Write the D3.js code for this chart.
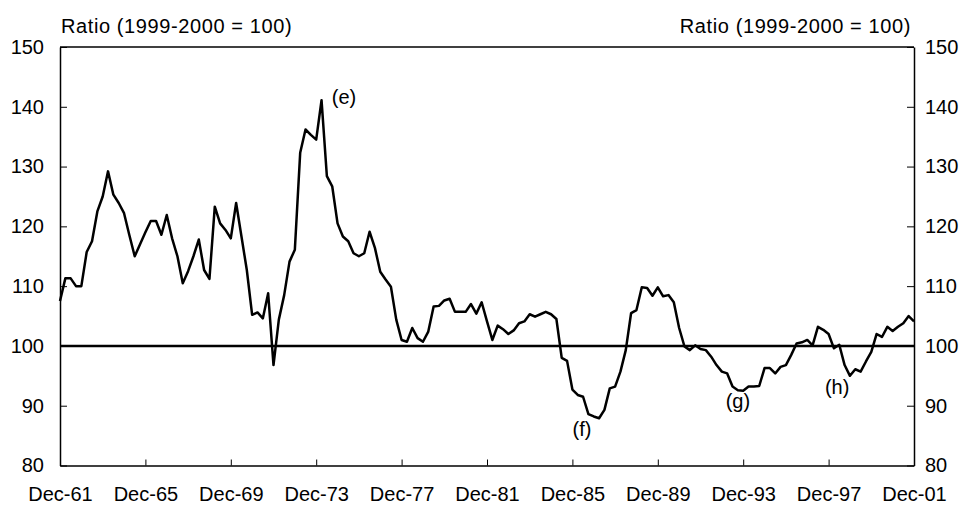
<!DOCTYPE html>
<html>
<head>
<meta charset="utf-8">
<script src="https://cdn.jsdelivr.net/npm/d3@7"></script>
<style>
  body { margin: 0; background: #fff; }
  svg text { font-family: "Liberation Sans", Arial, sans-serif; font-size: 20px; fill: #000; }
</style>
</head>
<body>
<div class="canvas"></div>
<script>
// quarterly ratio, Dec-61 .. Dec-01
const ratio = [
  107.5, 111.3, 111.3, 110.0, 110.0, 115.7, 117.5, 122.5, 125.0, 129.2,
  125.3, 123.9, 122.2, 118.5, 115.0, 117.0, 119.0, 120.9, 120.9, 118.6,
  121.9, 118.0, 115.0, 110.5, 112.5, 115.0, 117.8, 112.7, 111.2, 123.3,
  120.5, 119.4, 118.0, 123.9, 118.3, 112.7, 105.2, 105.6, 104.6, 108.8,
  96.8, 104.4, 108.5, 114.1, 116.1, 132.3, 136.2, 135.3, 134.5, 141.1,
  128.4, 126.7, 120.5, 118.3, 117.5, 115.5, 115.0, 115.5, 119.1, 116.4,
  112.4, 111.1, 109.9, 104.4, 101.0, 100.7, 103.0, 101.3, 100.7, 102.4,
  106.6, 106.7, 107.6, 107.9, 105.7, 105.7, 105.7, 107.0, 105.4, 107.3,
  104.1, 101.0, 103.4, 102.8, 102.0, 102.6, 103.8, 104.1, 105.3, 104.9,
  105.3, 105.7, 105.3, 104.5, 98.0, 97.5, 92.7, 91.8, 91.5, 88.6,
  88.2, 87.9, 89.3, 92.9, 93.2, 95.7, 99.3, 105.5, 106.0, 109.8,
  109.7, 108.4, 109.8, 108.3, 108.5, 107.3, 103.0, 99.9, 99.3, 100.1,
  99.5, 99.3, 98.2, 96.8, 95.7, 95.4, 93.2, 92.6, 92.5, 93.2,
  93.2, 93.3, 96.3, 96.3, 95.4, 96.5, 96.8, 98.5, 100.4, 100.6,
  101.0, 100.1, 103.2, 102.7, 102.0, 99.6, 100.2, 96.8, 95.0, 96.1,
  95.7, 97.4, 99.0, 102.0, 101.5, 103.2, 102.5, 103.2, 103.8, 105.0, 104.1
]
const xTickLabels = ['Dec-61', 'Dec-65', 'Dec-69', 'Dec-73', 'Dec-77', 'Dec-81',
  'Dec-85', 'Dec-89', 'Dec-93', 'Dec-97', 'Dec-01']
const yTicks = [80, 90, 100, 110, 120, 130, 140, 150]
const baseline = 100
const axisTitle = 'Ratio (1999-2000 = 100)'
// label, quarter index, value where the label sits
const notes = [
  {label: '(e)', q: 53.2, v: 140.5},
  {label: '(f)', q: 97.8, v: 84.9},
  {label: '(g)', q: 127, v: 89.7},
  {label: '(h)', q: 145.6, v: 91.9}
]

const width = 967, height = 505
const margin = {top: 47, bottom: 39.5, left: 60, right: 53}

const svg = d3.select('.canvas').append('svg')
  .attr('width', width)
  .attr('height', height)

const x = d3.scaleLinear()
  .domain([0, ratio.length - 1])
  .range([margin.left, width - margin.right])
const y = d3.scaleLinear()
  .domain([80, 150])
  .range([height - margin.bottom, margin.top])

// plot frame top
svg.append('line')
  .attr('x1', x(0)).attr('x2', x(ratio.length - 1))
  .attr('y1', y(150)).attr('y2', y(150))
  .attr('stroke', '#000').attr('stroke-width', 1.5)

const styleAxis = g => {
  g.select('.domain').attr('stroke', '#000').attr('stroke-width', 1.5)
  g.selectAll('.tick line').attr('stroke', '#000')
  g.selectAll('text').attr('font-family', null).attr('font-size', null)
}

svg.append('g')
  .attr('transform', `translate(${margin.left},0)`)
  .call(d3.axisLeft(y).tickValues(yTicks).tickSize(-7).tickPadding(16).tickSizeOuter(0))
  .call(styleAxis)

svg.append('g')
  .attr('transform', `translate(${width - margin.right},0)`)
  .call(d3.axisRight(y).tickValues(yTicks).tickSize(-7).tickPadding(11).tickSizeOuter(0))
  .call(styleAxis)

svg.append('g')
  .attr('transform', `translate(0,${y(80)})`)
  .call(d3.axisBottom(x)
    .tickValues(d3.range(0, ratio.length, 16))
    .tickFormat((d, i) => xTickLabels[i])
    .tickSize(-6).tickPadding(21).tickSizeOuter(0))
  .call(styleAxis)

// 100 reference line
svg.append('line')
  .attr('x1', x(0)).attr('x2', x(ratio.length - 1))
  .attr('y1', y(baseline)).attr('y2', y(baseline))
  .attr('stroke', '#000').attr('stroke-width', 2.5)

const line = d3.line()
  .x((d, i) => x(i))
  .y(d => y(d))

svg.append('path')
  .datum(ratio)
  .attr('fill', 'none')
  .attr('stroke', '#000')
  .attr('stroke-width', 2.5)
  .attr('stroke-linejoin', 'round')
  .attr('d', line)

svg.append('text')
  .attr('x', margin.left + 1).attr('y', 32.5)
  .attr('letter-spacing', 0.6)
  .text(axisTitle)
svg.append('text')
  .attr('x', width - margin.right - 3).attr('y', 32.5)
  .attr('text-anchor', 'end')
  .attr('letter-spacing', 0.6)
  .text(axisTitle)

svg.selectAll('.note')
  .data(notes)
  .enter().append('text')
  .attr('class', 'note')
  .attr('x', d => x(d.q))
  .attr('y', d => y(d.v))
  .attr('text-anchor', 'middle')
  .text(d => d.label)
</script>
</body>
</html>
